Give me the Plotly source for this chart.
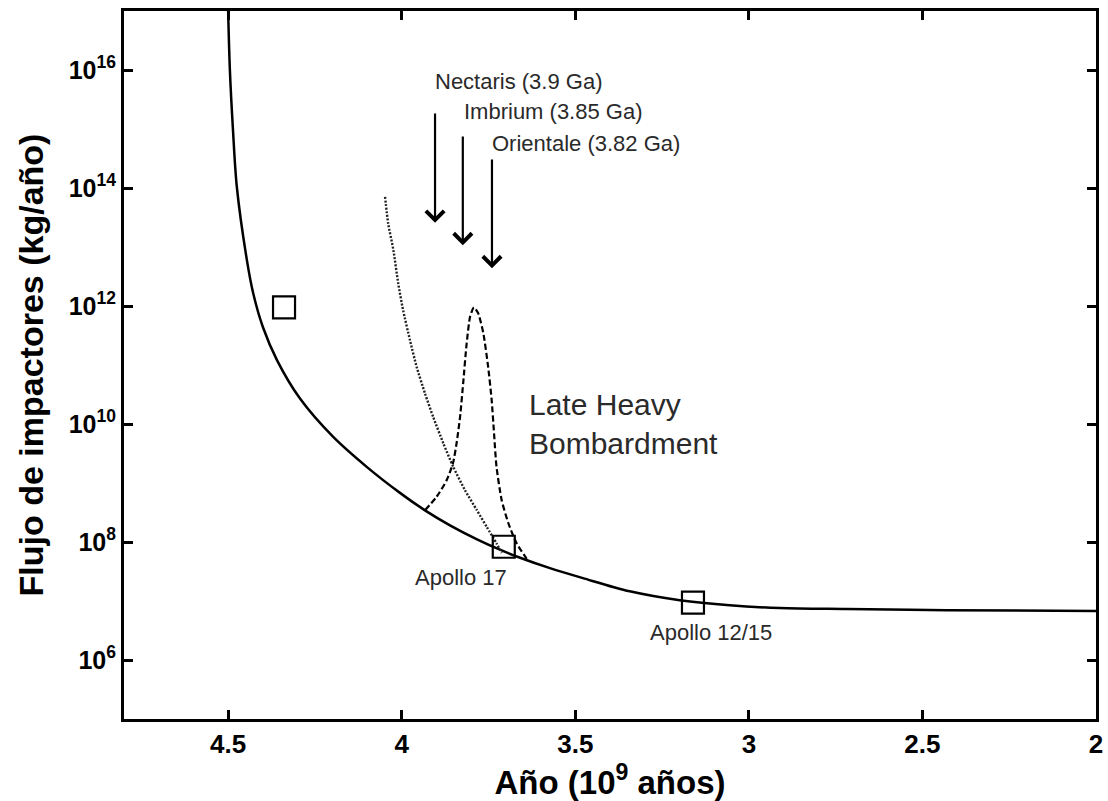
import plotly.graph_objects as go

# Main flux curve (x in 10^9 years, y in kg/yr)
main_x = [4.500, 4.495, 4.486, 4.475, 4.446, 4.428, 4.400, 4.359, 4.293, 4.198, 4.100,
          4.005, 3.933, 3.861, 3.783, 3.717, 3.659, 3.573, 3.478, 3.343, 3.199, 3.055,
          2.911, 2.718, 2.430, 2.000]
main_y = [1.0e17, 1.0e16, 9.5e14, 1.05e14, 6.0e12, 1.66e12, 4.4e11, 1.2e11, 2.7e10, 6.1e9, 1.86e9,
          6.8e8, 3.44e8, 1.92e8, 1.11e8, 7.4e7, 5.4e7, 3.6e7, 2.44e7, 1.46e7, 1.03e7, 8.45e6,
          7.6e6, 7.3e6, 7.0e6, 6.8e6]

# Dotted curve
dot_x = [4.048, 4.039, 4.024, 4.010, 3.996, 3.976, 3.957, 3.933, 3.909, 3.880, 3.852,
         3.818, 3.784, 3.755, 3.727, 3.712]
dot_y = [7.1e13, 2.5e13, 8.9e12, 2.4e12, 8.5e11, 2.6e11, 9.3e10, 3.3e10, 1.3e10, 4.7e9, 1.9e9,
         7.6e8, 3.5e8, 1.8e8, 9.5e7, 6.5e7]

# Dashed Late Heavy Bombardment spike
lhb_x = [3.933, 3.899, 3.871, 3.852, 3.842, 3.832, 3.823, 3.813, 3.803, 3.792, 3.780,
         3.765, 3.751, 3.741, 3.734, 3.727, 3.712, 3.693, 3.669, 3.640]
lhb_y = [3.44e8, 5.9e8, 1.1e9, 2.2e9, 4.7e9, 1.3e10, 4.9e10, 2.3e11, 6.6e11, 9.5e11, 7.6e11,
         3.5e11, 9.3e10, 2.6e10, 6.9e9, 1.9e9, 5.1e8, 2.1e8, 9.5e7, 5.2e7]

# Data points (squares)
pts_x = [4.339, 3.706, 3.161]
pts_y = [9.5e11, 8.3e7, 9.4e6]
pts_labels = ["", "Apollo 17", "Apollo 12/15"]
apollo_lx = [3.829, 3.109]
apollo_ly = [7.39, 6.47]

# Basin arrows
basin_labels = ["Nectaris (3.9 Ga)", "Imbrium (3.85 Ga)", "Orientale (3.82 Ga)"]
arrow_x = [3.904, 3.824, 3.740]
arrow_tip = [13.41, 13.03, 12.64]
arrow_tail = [15.29, 14.90, 14.51]
label_x = [3.910, 3.827, 3.746]
label_ly = [15.80, 15.29, 14.76]

x_ticks = [4.5, 4, 3.5, 3, 2.5, 2]
x_ticktext = ["4.5", "4", "3.5", "3", "2.5", "2"]
y_ticks = [1e6, 1e8, 1e10, 1e12, 1e14, 1e16]
y_ticktext = ["10<sup>6</sup>", "10<sup>8</sup>", "10<sup>10</sup>", "10<sup>12</sup>",
              "10<sup>14</sup>", "10<sup>16</sup>"]

FONT = "Liberation Sans, Arial, sans-serif"
TXT = "#2a2a2a"

fig = go.Figure()
fig.add_trace(go.Scatter(x=main_x, y=main_y, mode="lines",
                         line=dict(color="black", width=2.5, shape="spline", smoothing=0.9),
                         showlegend=False, hoverinfo="skip"))
fig.add_trace(go.Scatter(x=dot_x, y=dot_y, mode="lines",
                         line=dict(color="#222222", width=2.4, dash="2px,1.6px", shape="spline", smoothing=0.6),
                         showlegend=False, hoverinfo="skip"))
fig.add_trace(go.Scatter(x=lhb_x, y=lhb_y, mode="lines",
                         line=dict(color="black", width=2.2, dash="6px,3px", shape="spline", smoothing=0.6),
                         showlegend=False, hoverinfo="skip"))
fig.add_trace(go.Scatter(x=pts_x, y=pts_y, mode="markers",
                         marker=dict(symbol="square-open", size=22, color="black", line=dict(width=2.2)),
                         showlegend=False, hoverinfo="skip"))

annotations = []
for lab, ax_, tip, tail, lx, ly in zip(basin_labels, arrow_x, arrow_tip, arrow_tail, label_x, label_ly):
    annotations.append(dict(x=ax_, y=tip, ax=ax_, ay=tail, xref="x", yref="y", axref="x", ayref="y",
                            showarrow=True, arrowhead=4, arrowsize=1.6, arrowwidth=2.2,
                            arrowcolor="black", text=""))
    annotations.append(dict(x=lx, y=ly, xref="x", yref="y", text=lab, showarrow=False,
                            xanchor="left", yanchor="middle",
                            font=dict(family=FONT, size=22, color=TXT)))

for lab, lx, ly in zip(pts_labels[1:], apollo_lx, apollo_ly):
    annotations.append(dict(x=lx, y=ly, xref="x", yref="y", text=lab, showarrow=False,
                            xanchor="center", yanchor="middle",
                            font=dict(family=FONT, size=22, color=TXT)))

annotations.append(dict(x=3.64, y=10.0, xref="x", yref="y",
                        text="Late Heavy<br>Bombardment", showarrow=False,
                        xanchor="left", yanchor="middle", align="left",
                        font=dict(family=FONT, size=30, color=TXT)))

fig.update_layout(
    width=1108, height=801,
    margin=dict(l=124, r=12, t=11, b=82),
    paper_bgcolor="white", plot_bgcolor="white",
    font=dict(family=FONT, color="black"),
    annotations=annotations,
)
fig.update_xaxes(range=[4.8, 2.0], tickvals=x_ticks, ticktext=x_ticktext, automargin=False,
                 showgrid=False, zeroline=False, showline=True, linecolor="black", linewidth=3,
                 mirror="ticks", ticks="inside", ticklen=9, tickwidth=3, tickcolor="black",
                 tickfont=dict(family=FONT, size=26, color="black", weight="bold"),
                 title=dict(text="<b>Año (10<sup>9</sup> años)</b>",
                            font=dict(family=FONT, size=33, color="black")))
fig.update_yaxes(type="log", range=[5, 17], tickvals=y_ticks, ticktext=y_ticktext, automargin=False,
                 showgrid=False, zeroline=False, showline=True, linecolor="black", linewidth=3,
                 mirror="ticks", ticks="inside", ticklen=9, tickwidth=3, tickcolor="black",
                 tickfont=dict(family=FONT, size=25, color="black", weight="bold"),
                 title=dict(text="<b>Flujo de impactores (kg/año)</b>",
                            font=dict(family=FONT, size=34, color="black")))

fig.write_html("out.html", config={"displayModeBar": False},
               post_script="document.body.style.margin='0';document.body.style.overflow='hidden';")
